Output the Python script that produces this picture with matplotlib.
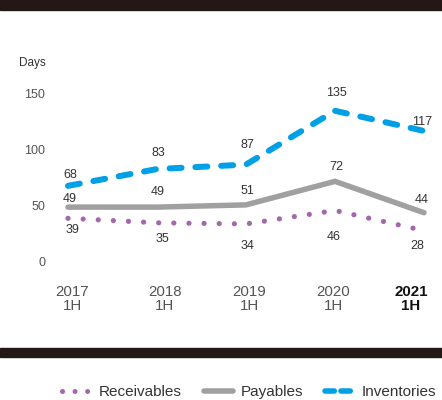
import matplotlib
matplotlib.use("Agg")
import matplotlib.pyplot as plt
from matplotlib.patches import Rectangle
from matplotlib.lines import Line2D

plt.rcParams['font.family'] = ['Liberation Sans', 'DejaVu Sans']

years = ["2017\n1H", "2018\n1H", "2019\n1H", "2020\n1H", "2021\n1H"]
receivables = [39, 35, 34, 46, 28]
payables = [49, 49, 51, 72, 44]
inventories = [68, 83, 87, 135, 117]
yticks = [0, 50, 100, 150]

C_REC = "#A368AC"
C_PAY = "#A0A0A0"
C_INV = "#00A0E6"
C_TXT = "#333333"
C_BAR = "#231815"

W, H = 442, 400
fig = plt.figure(figsize=(W / 100, H / 100), dpi=100)

# axes in pixel geometry
L, R, T, B = 52, 442, 70, 275
ax = fig.add_axes([L / W, 1 - B / H, (R - L) / W, (B - T) / H])
x0px, dxpx = 68, 89
y0px, dypx = 262, 1.12
ax.set_xlim((L - x0px) / dxpx, (R - x0px) / dxpx)
ax.set_ylim((y0px - B) / dypx, (y0px - T) / dypx)
for s in ax.spines.values():
    s.set_visible(False)
ax.set_facecolor('none')

x = list(range(len(years)))
pt = 0.72  # px -> pt

ax.plot(x, receivables, color=C_REC, lw=5.2 * pt, linestyle=(0, (0.01, 2.9)),
        dash_capstyle='round', solid_capstyle='round', clip_on=False, zorder=3)
ax.plot(x, payables, color=C_PAY, lw=5.5 * pt, solid_capstyle='round',
        solid_joinstyle='miter', clip_on=False, zorder=3)
ax.plot(x, inventories, color=C_INV, lw=6 * pt, linestyle=(0, (2.0, 2.3)),
        dash_capstyle='round', clip_on=False, zorder=3)

# data labels (pixel offsets relative to point)
inv_off = [-11, -16, -20, -18, -9]
pay_off = [-8, -15, -14, -14, -13]
rec_off = [12, 16, 22, 27, 15]
xoff = [2, 1, 1, 1, -2]
rec_xoff = [4, 5, 1, -1, -7]
FS_LAB = 9
for i in x:
    ax.annotate(str(inventories[i]), (x[i], inventories[i]),
                xytext=(xoff[i] * pt, -inv_off[i] * pt), textcoords='offset points',
                ha='center', va='center', fontsize=FS_LAB, color=C_TXT)
    ax.annotate(str(payables[i]), (x[i], payables[i]),
                xytext=(xoff[i] * pt, -pay_off[i] * pt), textcoords='offset points',
                ha='center', va='center', fontsize=FS_LAB, color=C_TXT)
    ax.annotate(str(receivables[i]), (x[i], receivables[i]),
                xytext=(rec_xoff[i] * pt, -rec_off[i] * pt), textcoords='offset points',
                ha='center', va='center', fontsize=FS_LAB, color=C_TXT)

# ticks
ax.set_yticks(yticks)
ax.set_yticklabels([str(v) for v in yticks])
tick_px = [72, 165, 249, 333, 411]
ax.set_xticks([(p - x0px) / dxpx for p in tick_px])
ax.set_xticklabels(years)
ax.tick_params(axis='y', length=0, pad=5, labelsize=9, labelcolor="#555555")
ax.tick_params(axis='x', length=0, pad=7.5, labelsize=10.8, labelcolor="#555555")
for lab in ax.get_xticklabels():
    lab.set_linespacing(1.0)
xl = ax.get_xticklabels()[-1]
xl.set_fontweight('bold')
xl.set_color("#111111")

fig.text(32 / W, 1 - 63 / H, "Days", ha='center', va='center', fontsize=8.5, color=C_TXT)

# black bars
fig.patches.append(Rectangle((0, 1 - 10 / H), 1, 10 / H, transform=fig.transFigure,
                             color=C_BAR, zorder=0))
fig.patches.append(Rectangle((0, 1 - 357 / H), 1, 9 / H, transform=fig.transFigure,
                             color=C_BAR, zorder=0))

handles = [
    Line2D([], [], color=C_REC, lw=5.0 * pt, linestyle=(0, (0.01, 2.5)), dash_capstyle='round'),
    Line2D([], [], color=C_PAY, lw=5.5 * pt, solid_capstyle='round'),
    Line2D([], [], color=C_INV, lw=5.5 * pt, linestyle=(0, (1.7, 1.2)), dash_capstyle='round'),
]
fig.legend(handles, ["Receivables", "Payables", "Inventories"], ncol=3,
           loc='center', bbox_to_anchor=(249 / W, 1 - 392 / H), frameon=False,
           fontsize=11, handlelength=1.9, handletextpad=0.5, columnspacing=1.45,
           labelcolor=C_TXT, borderaxespad=0, borderpad=0)

fig.savefig("out.png", dpi=100)
